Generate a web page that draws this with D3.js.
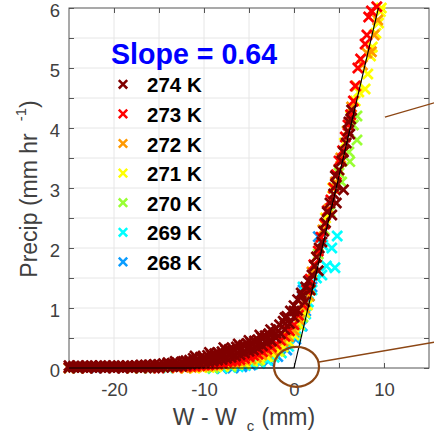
<!DOCTYPE html>
<html><head><meta charset="utf-8">
<script src="https://cdn.jsdelivr.net/npm/d3@7"></script>
<style>body{margin:0;background:#fff}svg{display:block}</style>
</head><body>
<svg id="c" width="434" height="432"></svg>
<script>
// ---------- data ----------
const seriesNames = ["274 K","273 K","272 K","271 K","270 K","269 K","268 K"];
const seriesColors = ["#800000","#ff0000","#ff9900","#ffff00","#99ff33","#00ffff","#0a9dff"];
const slopeLabel = "Slope = 0.64";
const xTickLabels = [-20,-10,0,10];
const xGridVals = [-20,-15,-10,-5,0,5,10];
const yTickLabels = [0,1,2,3,4,5,6];
const yGridVals = [0.5,1,1.5,2,2.5,3,3.5,4,4.5,5,5.5];
const fitX = [-25,0,9.375];
const fitY = [0,0,6];
const circleCenter = [0.28,0.02];
const circleRadii = [2.5,0.333];
const annotLine1 = [[2.78,0.1],[15.6,0.43]];
const annotLine2 = [[10.1,4.18],[15.6,4.42]];

const s274 = [
 [-25,0.0],[-24.5,0.01],[-24,0.0],[-23.5,0.01],[-23,0.0],[-22.5,0.01],[-22,0.0],[-21.5,0.01],[-21,0.0],[-20.5,0.01],[-20,0.0],[-19.5,0.01],[-19,0.0],[-18.5,0.01],[-18,0.0],[-17.5,0.01],[-17,0.0],[-16.5,0.01],[-16,0.01],[-15.5,0.0],[-15,0.01],[-14.5,0.01],[-14,0.02],[-13.5,0.02],[-13,0.03],[-12.5,0.03],
 [-25,0.04],[-24.5,0.03],[-24,0.04],[-23.5,0.03],[-23,0.04],[-22.5,0.04],[-22,0.03],[-21.5,0.04],[-21,0.04],[-20.5,0.03],[-20,0.04],[-19.5,0.04],[-19,0.03],[-18.5,0.04],[-18,0.04],[-17.5,0.04],[-17,0.05],[-16.5,0.05],[-16,0.05],[-15.5,0.06],[-15,0.06],[-14.5,0.07],[-14,0.07],[-13.5,0.08],[-13,0.09],[-12.5,0.1],
 [-12,0.12],[-11.6,0.13],[-11.2,0.16],[-10.8,0.15],[-10.4,0.18],[-10,0.18],[-9.6,0.21],[-9.2,0.22],[-8.8,0.24],[-8.4,0.25],[-8,0.27],[-7.6,0.3],[-7.2,0.31],[-6.8,0.32],[-6.4,0.35],[-6,0.36],[-5.6,0.38],[-5.2,0.41],[-4.8,0.42],[-4.4,0.45],[-4,0.47],[-3.6,0.51],[-3.2,0.54],[-2.8,0.57],[-2.4,0.61],[-2,0.66],[-1.6,0.72],[-1.2,0.78],[-0.8,0.86],[-0.4,0.95],[0,1.04],[0.4,1.14],[0.8,1.25],
 [-14,0.09],[-13.2,0.11],[-11,0.2],[-9.4,0.26],[-7.8,0.34],[-6.2,0.4],[-5,0.46],[-3.8,0.55],[-2.6,0.64],[-1,0.84],
 [-12,0.05],[-11.5,0.06],[-11,0.07],[-10.5,0.08],[-10,0.09],[-9.5,0.1],[-9,0.11],[-8.5,0.13],[-8,0.14],[-7.5,0.16],[-7,0.18],[-6.5,0.2],[-6,0.22],[-5.5,0.25],[-5,0.28],[-4.5,0.3],[-4,0.33],[-3.5,0.37],[-3,0.41],[-2.5,0.45],[-2,0.5],[-1.5,0.57],[-1,0.64],[-0.5,0.74],[0,0.85],[0.4,0.96],
 [-11,0.11],[-10,0.14],[-9,0.16],[-8,0.2],[-7,0.25],[-6,0.29],[-5,0.35],[-4,0.4],[-3,0.48],[-2,0.58],[-1,0.74],[0,0.95],
 [0.9,1.2],[1.3,1.35],[1.2,1.1],[1.6,1.45],[1.8,1.3],[2.0,1.55],[2.3,1.7],[2.5,1.85],[2.7,1.62],[2.8,2.0],[3.1,2.1],[3.3,2.28],[3.5,2.42],[3.7,2.6],[4.0,2.75],[4.2,2.55],[4.4,2.9],[4.7,2.75],[4.7,3.05],[4.6,3.2],[5.0,3.3],[5.5,2.97],[5.3,3.45],[5.5,3.6],[5.8,3.75],[6.0,3.95],[6.2,3.9],[6.4,4.3],[6.1,4.1],[6.3,4.15]
];
const s273 = [
 [-25,0.01],[-23,0.0],[-21,0.02],[-19,0.0],[-17,0.01],[-15,0.0],[-13,0.01],
 [-12,0.02],[-11.5,0.03],[-11,0.03],[-10.5,0.04],[-10,0.05],[-9.5,0.05],[-9,0.06],[-8.5,0.07],[-8,0.08],[-7.5,0.1],[-7,0.11],[-6.5,0.12],[-6,0.14],[-5.5,0.16],[-5,0.19],[-4.5,0.21],[-4,0.23],[-3.5,0.27],[-3,0.31],[-2.5,0.35],[-2,0.4],[-1.5,0.46],[-1,0.53],[-0.5,0.62],[0,0.72],[0.5,0.88],[1.0,1.05],
 [1.4,1.3],[1.8,1.48],[2.2,1.72],[2.7,1.95],[3.0,2.18],[3.4,2.4],[3.7,2.62],[4.1,2.8],[4.4,3.0],[4.7,3.22],[5.0,3.45],[5.4,3.62],[5.7,3.85],[6.0,4.05],[6.3,4.22],[6.6,4.45],[6.8,4.7],[7.1,5.0],[7.4,5.15],[7.9,5.4],[8.1,5.55],[8.3,5.85],[8.6,5.95],[9.2,6.02]
];
const s272 = [
 [-24,0.0],[-20,0.01],[-16,0.0],[-13,0.0],
 [-12,0.0],[-11.4,0.01],[-10.8,0.02],[-10.2,0.03],[-9.6,0.03],[-9,0.04],[-8.4,0.05],[-7.8,0.06],[-7.2,0.08],[-6.6,0.09],[-6,0.11],[-5.4,0.13],[-4.8,0.15],[-4.2,0.18],[-3.6,0.22],[-3,0.26],[-2.4,0.3],[-1.8,0.36],[-1.2,0.44],[-0.6,0.52],[0,0.63],[0.6,0.8],[1.2,1.0],
 [1.7,1.2],[2.0,1.6],[2.5,1.85],[3.2,2.3],[3.9,2.65],[4.6,3.1],[5.2,3.5],[5.9,3.95],[6.4,4.35],[6.9,4.7],[7.6,5.05],[8.1,5.25],[8.6,5.27],[8.9,5.55],[9.3,5.8]
];
const s271 = [
 [-25,0.0],[-22,0.01],[-18,0.0],[-14,0.01],
 [-11,0.0],[-10.2,0.01],[-9.4,0.01],[-8.6,0.02],[-7.8,0.03],[-7,0.05],[-6.2,0.06],[-5.4,0.08],[-4.6,0.11],[-3.8,0.14],[-3,0.19],[-2.4,0.23],[-1.8,0.28],[-1.2,0.35],[-0.6,0.44],[0,0.55],[0.6,0.72],[1.2,0.92],
 [1.5,1.05],[2.3,1.7],[3.5,2.5],[4.3,3.0],[5.0,3.3],[5.6,3.75],[6.3,4.2],[6.8,4.45],[7.2,4.6],[7.9,4.65],[8.2,4.9],[8.5,5.2],[8.7,5.35],[9.1,5.58],[9.4,5.75],[9.6,5.94],[9.7,6.0]
];
const s270 = [
 [-23,0.0],[-17,0.0],[-12,0.0],
 [-9,0.0],[-7,0.02],[-5.5,0.06],[-4,0.12],[-2.8,0.19],[-1.6,0.28],[-0.6,0.42],[0.3,0.6],[1,0.85],
 [1.8,1.3],[2.7,1.9],[3.4,2.3],[4.0,2.6],[4.5,3.0],[5.3,3.1],[5.0,3.25],[6.2,3.44],[6.1,3.6],[7.0,3.8],[7.0,4.2],[6.6,4.05]
];
const s269 = [
 [-24,0.0],[-19,0.0],[-14,0.0],
 [-9,-0.01],[-8,0.0],[-7,0.01],[-6.2,0.02],[-5.4,0.04],[-4.6,0.06],[-3.8,0.09],[-3,0.13],[-2.2,0.18],[-1.4,0.25],[-0.6,0.36],[0.2,0.52],[0.8,0.7],[1.3,0.9],
 [1.6,1.1],[1.0,1.35],[2.0,1.3],[2.5,1.5],[3.1,1.55],[3.6,1.7],[4.55,1.67],[4.2,2.0],[4.8,2.2],[3.2,2.05]
];
const s268 = [
 [-22,0.0],[-16,0.0],
 [-8,-0.01],[-6.8,0.0],[-5.8,0.02],[-4.8,0.05],[-3.8,0.08],[-2.8,0.12],[-1.8,0.19],[-0.8,0.3],[0.2,0.48],[0.9,0.7],
 [1.3,0.95],[1.7,1.2],[2.0,1.35],[2.7,2.19],[1.0,1.3]
];
const seriesData = [s274,s273,s272,s271,s270,s269,s268];

// ---------- layout ----------
const svg = d3.select("#c");
const font = "'Liberation Sans', Arial, Helvetica, sans-serif";
const x = d3.scaleLinear().domain([-25,15]).range([69,429]);
const y = d3.scaleLinear().domain([0,6]).range([368,8]);
const axisCol = "#555555";
const labCol = "#404040";

// grid
const grid = svg.append("g");
grid.selectAll("line.vx").data(xGridVals).join("line")
  .attr("x1", d=>x(d)).attr("x2", d=>x(d)).attr("y1", y(6)).attr("y2", y(0))
  .attr("stroke", "#e6e6e6").attr("stroke-width", 1);
grid.selectAll("line.hy").data(yGridVals).join("line").attr("class","hy")
  .attr("y1", d=>y(d)).attr("y2", d=>y(d)).attr("x1", x(-25)).attr("x2", x(15))
  .attr("stroke", "#e6e6e6").attr("stroke-width", 1);

// axes (ticks inside)
const yAxL = d3.axisLeft(y).tickValues([0,...yGridVals,6]).tickSize(-5).tickPadding(9)
  .tickFormat(d => Number.isInteger(d) ? d : "");
const yAxR = d3.axisRight(y).tickValues([0,...yGridVals,6]).tickSize(-5).tickFormat("");
const xAxB = d3.axisBottom(x).tickValues(xGridVals).tickSize(-5).tickPadding(15)
  .tickFormat(d => xTickLabels.includes(d) ? d : "");
const xAxT = d3.axisTop(x).tickValues(xGridVals).tickSize(-5).tickFormat("");

function styleAxis(g){
  g.select(".domain").remove();
  g.selectAll("line").attr("stroke", axisCol);
  g.selectAll("text").attr("fill", labCol).style("font-family", font).style("font-size","18.5px");
}
svg.append("g").attr("transform",`translate(${x(-25)},0)`).call(yAxL).call(styleAxis)
  .selectAll("text").attr("dy","0.45em");
svg.append("g").attr("transform",`translate(${x(15)},0)`).call(yAxR).call(styleAxis);
svg.append("g").attr("transform",`translate(0,${y(0)})`).call(xAxB).call(styleAxis);
svg.append("g").attr("transform",`translate(0,${y(6)})`).call(xAxT).call(styleAxis);

svg.append("rect").attr("x", x(-25)).attr("y", y(6))
  .attr("width", x(15)-x(-25)).attr("height", y(0)-y(6))
  .attr("fill","none").attr("stroke", axisCol).attr("stroke-width", 1);

// markers
const mk = h => `M${-h},${-h}L${h},${h}M${-h},${h}L${h},${-h}`;
const order = [6,5,4,3,2,1,0];
order.forEach(i => {
  svg.append("g").selectAll("path").data(seriesData[i]).join("path")
    .attr("d", mk(5))
    .attr("transform", d => `translate(${x(d[0])},${y(d[1])})`)
    .attr("stroke", seriesColors[i]).attr("stroke-width", 2.7)
    .attr("fill","none");
});

// fit line
const fitPts = fitX.map((v,i)=>[v,fitY[i]]);
svg.append("path").datum(fitPts)
  .attr("d", d3.line().x(d=>x(d[0])).y(d=>y(d[1])))
  .attr("fill","none").attr("stroke","#000").attr("stroke-width",1.1);

// annotation
const brown = "#8c4614";
svg.append("ellipse")
  .attr("cx", x(circleCenter[0])).attr("cy", y(circleCenter[1]))
  .attr("rx", x(circleCenter[0]+circleRadii[0]) - x(circleCenter[0]))
  .attr("ry", y(circleCenter[1]) - y(circleCenter[1]+circleRadii[1]))
  .attr("fill","none").attr("stroke", brown).attr("stroke-width", 2.2);
[annotLine1, annotLine2].forEach(L => {
  svg.append("path").datum(L)
    .attr("d", d3.line().x(d=>x(d[0])).y(d=>y(d[1])))
    .attr("fill","none").attr("stroke", brown).attr("stroke-width", 1.3);
});

// legend
svg.append("text").attr("x",111).attr("y",64).text(slopeLabel)
  .attr("fill","#0000ff").style("font-family",font).style("font-weight","bold").style("font-size","28.6px");
seriesNames.forEach((n,i) => {
  const by = 92.3 + i*29.6;
  svg.append("path").attr("d", mk(4.2)).attr("transform",`translate(123,${by-8})`)
    .attr("stroke", seriesColors[i]).attr("stroke-width", 2.5).attr("fill","none");
  svg.append("text").attr("x",147).attr("y",by).text(n)
    .attr("fill","#000").style("font-family",font).style("font-weight","bold").style("font-size","20.5px");
});

// axis labels
const xl = svg.append("text").attr("x",244).attr("y",425).attr("text-anchor","middle")
  .attr("fill",labCol).style("font-family",font).style("font-size","23px");
xl.append("tspan").text("W - W");
xl.append("tspan").attr("dx",10).attr("dy",5.5).style("font-size","15px").text("c");
xl.append("tspan").attr("dx",1).attr("dy",-5.5).text(" (mm)");

const yl = svg.append("text").attr("transform","translate(37,189) rotate(-90)").attr("text-anchor","middle")
  .attr("fill",labCol).style("font-family",font).style("font-size","23px");
yl.append("tspan").text("Precip (mm hr");
yl.append("tspan").attr("dx",12).attr("dy",-11).style("font-size","15px").text("-1");
yl.append("tspan").attr("dy",11).text(")");
</script>
</body></html>
